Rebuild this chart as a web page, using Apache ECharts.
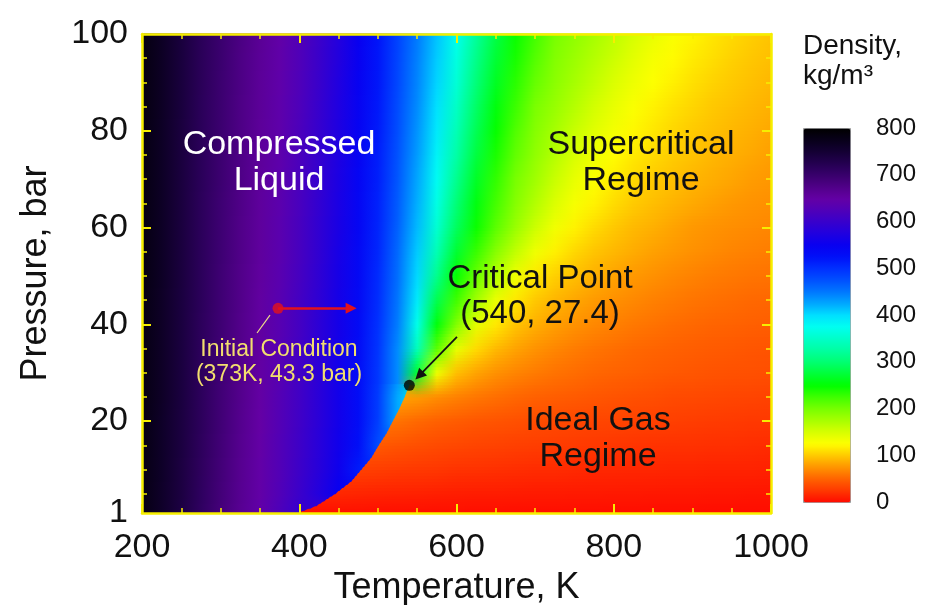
<!DOCTYPE html>
<html>
<head>
<meta charset="utf-8">
<script src="https://cdn.jsdelivr.net/npm/echarts@6/dist/echarts.min.js"></script>
<style>
    html, body { margin: 0; padding: 0; background: #fff; }
    #chart { width: 928px; height: 605px; }
</style>
</head>
<body>
<div id="chart"></div>
<script>
// sample temperatures (K) of every density row
const temps = [200, 225, 250, 275, 300, 325, 350, 375, 400, 425, 450, 475, 500, 525, 550, 575,
    600, 625, 650, 675, 700, 725, 750, 775, 800, 825, 850, 875, 900, 925, 950, 975, 1000];
// pressure levels (bar) of the rows, bottom to top
const pressures = [1, 5, 10, 15, 20, 25, 30, 35, 40, 45, 50, 55, 60, 65, 70, 75, 80, 85, 90, 95, 100];
// density, kg/m3
const density = [
    [782, 761, 737, 711, 688, 666, 645, 622, 3.0, 2.8, 2.7, 2.5, 2.4, 2.3, 2.2, 2.1, 2.0, 1.9, 1.9, 1.8, 1.7, 1.7, 1.6, 1.6, 1.5, 1.5, 1.4, 1.4, 1.4, 1.3, 1.3, 1.3, 1.2],
    [782, 761, 738, 712, 689, 667, 647, 626, 603, 578, 15, 14, 13, 12.5, 12, 11, 10.5, 10, 9.7, 9.3, 8.9, 8.5, 8.2, 8, 7.7, 7.4, 7.2, 7, 6.8, 6.6, 6.4, 6.2, 6.1],
    [782, 762, 738, 713, 690, 668, 648, 627, 605, 582, 556, 517, 28, 26, 25, 24, 22, 21, 20, 19, 18, 18, 17, 16, 16, 15, 15, 14, 14, 13, 13, 13, 12],
    [783, 762, 739, 714, 691, 669, 649, 628, 606, 583, 558, 528, 479, 41, 38, 36, 34, 32, 31, 29, 28, 27, 26, 25, 24, 23, 22, 21, 21, 20, 20, 19, 18],
    [783, 762, 739, 715, 692, 670, 650, 629, 608, 585, 560, 532, 490, 58, 53, 49, 46, 43, 41, 39, 37, 36, 34, 33, 32, 31, 30, 29, 28, 27, 26, 25, 25],
    [783, 763, 740, 715, 692, 671, 651, 630, 609, 585, 560, 532, 492, 425, 78, 71, 65, 60, 56, 52, 49, 47, 45, 43, 41, 39, 38, 36, 35, 34, 33, 32, 31],
    [783, 763, 740, 715, 693, 672, 652, 632, 610, 586, 560, 532, 495, 440, 270, 136, 95, 82, 73, 67, 62, 58, 55, 52, 50, 48, 46, 44, 43, 41, 40, 39, 38],
    [783, 763, 740, 715, 693, 673, 653, 633, 611, 587, 561, 533, 497, 440, 340, 213, 141, 108, 93, 82, 74, 68, 63, 59, 56, 53, 51, 49, 47, 45, 44, 42, 41],
    [783, 763, 740, 715, 694, 673, 654, 634, 612, 588, 563, 535, 500, 448, 370, 255, 195, 142, 115, 98, 88, 80, 74, 69, 65, 61, 58, 55, 53, 51, 50, 48, 47],
    [783, 763, 740, 716, 694, 674, 654, 635, 613, 590, 564, 536, 503, 452, 392, 285, 225, 178, 138, 114, 100, 91, 84, 78, 73, 69, 65, 62, 59, 57, 55, 53, 52],
    [784, 764, 741, 716, 694, 674, 655, 636, 615, 591, 565, 537, 505, 456, 403, 314, 248, 207, 168, 135, 114, 103, 95, 88, 82, 77, 73, 69, 66, 63, 61, 59, 58],
    [784, 764, 741, 716, 695, 675, 656, 637, 616, 592, 566, 538, 508, 460, 410, 337, 272, 228, 192, 162, 135, 118, 107, 98, 92, 86, 81, 77, 73, 70, 67, 65, 63],
    [784, 764, 741, 716, 695, 675, 657, 638, 617, 593, 568, 540, 510, 465, 417, 355, 291, 246, 213, 183, 156, 134, 119, 108, 100, 93, 88, 82, 77, 74, 72, 70, 68],
    [784, 764, 741, 716, 695, 676, 657, 639, 618, 594, 569, 541, 512, 468, 422, 367, 303, 257, 223, 193, 170, 148, 131, 119, 109, 101, 95, 90, 85, 81, 77, 74, 72],
    [784, 764, 741, 717, 696, 677, 658, 640, 619, 596, 570, 542, 514, 471, 426, 378, 315, 267, 231, 200, 179, 158, 140, 127, 117, 108, 101, 96, 91, 87, 83, 79, 76],
    [784, 764, 741, 717, 696, 677, 659, 641, 620, 597, 572, 544, 515, 474, 431, 385, 328, 278, 240, 210, 187, 168, 150, 135, 124, 115, 108, 102, 97, 92, 88, 84, 80],
    [784, 764, 741, 717, 697, 678, 660, 642, 621, 598, 573, 545, 517, 477, 436, 393, 338, 287, 248, 218, 193, 176, 159, 144, 132, 122, 114, 107, 101, 96, 92, 88, 84],
    [785, 765, 742, 717, 697, 678, 661, 643, 623, 599, 574, 546, 519, 479, 440, 399, 348, 295, 256, 227, 199, 184, 168, 153, 140, 128, 119, 112, 106, 100, 96, 92, 88],
    [785, 765, 742, 718, 697, 679, 661, 644, 624, 601, 575, 547, 520, 482, 443, 405, 358, 304, 265, 234, 208, 190, 176, 162, 148, 136, 126, 118, 111, 105, 100, 96, 92],
    [785, 765, 742, 718, 698, 679, 662, 645, 625, 602, 577, 549, 521, 484, 446, 409, 365, 313, 273, 241, 216, 195, 182, 169, 156, 143, 131, 123, 116, 110, 104, 99, 95],
    [785, 765, 742, 718, 698, 680, 663, 646, 626, 603, 578, 550, 522, 486, 449, 413, 374, 322, 281, 247, 224, 200, 188, 176, 164, 151, 139, 129, 121, 114, 108, 103, 98]
];
// saturation curve (liquid/vapour boundary) up to the critical point
const satP = [1, 2.5, 5, 7.5, 10, 12.5, 15, 17.5, 20, 22.5, 25, 27.4];
const satT = [398, 422, 446, 466, 479, 492, 501, 511, 519, 527, 534, 540];
const satLiquid = [598, 575, 550, 524, 502, 484, 466, 448, 426, 405, 385, 232];
const satVapour = [3, 7, 15, 22, 30, 37, 44, 52, 60, 70, 82, 232];

// annotations
const initialPoint = [373, 43.3];
const criticalPoint = [540, 27.4];
const initialArrowEnd = [466, 43.3];
const criticalArrowStart = [600.6, 37.4];
const criticalArrowEnd = [552.6, 29.4];
const leaderStart = [362.8, 41.9];
const leaderEnd = [346.3, 38.2];

// ticks
const tempTicks = [200, 400, 600, 800, 1000];
const pressureLabels = [1, 20, 40, 60, 80, 100];
const pressureMajor = [20, 40, 60, 80];
const pressureMinor = [5, 10, 15, 25, 30, 35, 45, 50, 55, 65, 70, 75, 85, 90, 95];

// colour ramp of the density bar, 0 .. 800 in steps of 25
const ramp = ['#ff0a00', '#ff3800', '#ff6200', '#ff9400', '#ffc800', '#ffff00', '#d8ff00', '#a8ff00',
    '#78ff00', '#40ff00', '#00ff00', '#00ff38', '#00ff70', '#00ffa0', '#00ffc8', '#00fff0',
    '#00e0ff', '#00a8ff', '#0078ff', '#0050ff', '#0030ff', '#0010f8', '#0800f0', '#2000e0',
    '#3800cc', '#5000b8', '#6400a4', '#500088', '#38006c', '#240050', '#140034', '#08001a', '#000000'];

const FONT = '"Liberation Sans", Arial, Helvetica, sans-serif';
const FRAME = '#f6ee00';
const SUBSTRIPS = 8;

const nT = temps.length;
const nP = pressures.length;
const tMin = temps[0], tMax = temps[nT - 1];
const pCrit = criticalPoint[1];

// one cell per sample, then the liquid and vapour side of each saturation point
const cells = [];
pressures.forEach((p, j) => temps.forEach((t, i) => cells.push([t, p, density[j][i]])));
const satBase = cells.length;
satP.forEach((p, k) => {
    cells.push([satT[k], p, satLiquid[k]]);
    cells.push([satT[k], p, satVapour[k]]);
});

// temperature of the drawn saturation line at pressure p
function satTempAt(p) {
    for (let m = 1; m < satP.length; m++) {
        if (p <= satP[m]) {
            const f = (p - satP[m - 1]) / (satP[m] - satP[m - 1]);
            return satT[m - 1] + f * (satT[m] - satT[m - 1]);
        }
    }
    return satT[satT.length - 1];
}

// colours of row j; one phase only when the row crosses the saturation line
function rowColors(api, j, mode) {
    const base = j * nT;
    const k = satP.indexOf(pressures[j]);
    return temps.map((t, i) => {
        const own = api.visual('color', base + i);
        if (k < 0 || mode === 'raw') return own;
        if (mode === 'gas') return t > satT[k] ? own : api.visual('color', satBase + 2 * k + 1);
        return t < satT[k] ? own : api.visual('color', satBase + 2 * k);
    });
}

// the first cell of each row draws the strip up to the next row
function renderStrip(params, api) {
    const idx = params.dataIndex;
    if (idx >= satBase || idx % nT !== 0) return null;
    const j = idx / nT;
    if (j >= nP - 1) return null;
    const pa = pressures[j], pb = pressures[j + 1];
    const x0 = api.coord([tMin, pa])[0], x1 = api.coord([tMax, pa])[0];
    const offsets = temps.map(t => (api.coord([t, pa])[0] - x0) / (x1 - x0));
    const A = {raw: rowColors(api, j, 'raw'), gas: rowColors(api, j, 'gas'), liq: rowColors(api, j, 'liq')};
    const B = {raw: rowColors(api, j + 1, 'raw'), gas: rowColors(api, j + 1, 'gas'), liq: rowColors(api, j + 1, 'liq')};
    // the strip that holds the critical point: keep the two sides apart
    const kA = satP.indexOf(pa), kB = satP.indexOf(pb);
    const crossing = kA >= 0 && kB < 0;
    const gasB = crossing ? temps.map((t, i) => t > satT[kA] ? B.raw[i] : A.gas[i]) : B.gas;
    const above = crossing ? temps.map((t, i) => t > satT[kA] ? A.gas[i] : B.raw[i]) : A.raw;
    const grad = (ca, cb, f) => new echarts.graphic.LinearGradient(x0, 0, x1, 0, offsets.map((o, i) => ({
        offset: o,
        color: echarts.color.lerp(f, [ca[i], cb[i]])
    })), true);
    const children = [];
    for (let s = 0; s < SUBSTRIPS; s++) {
        const qa = pa + (pb - pa) * s / SUBSTRIPS;
        const qb = pa + (pb - pa) * (s + 1) / SUBSTRIPS;
        const qm = (qa + qb) / 2, f = (qm - pa) / (pb - pa);
        const yTop = api.coord([tMin, qb])[1] - 0.5, yBot = api.coord([tMin, qa])[1] + 0.5;
        const rect = {x: x0, y: yTop, width: x1 - x0, height: yBot - yTop};
        if (qm < pCrit) {
            children.push({type: 'rect', shape: rect, style: {fill: grad(A.gas, gasB, f)}, z2: 0});
            const pts = [[tMin, qa], [satTempAt(qa), qa]];
            satP.forEach((sp, m) => {
                if (sp > qa && sp < Math.min(qb, pCrit)) pts.push([satT[m], sp]);
            });
            if (qb > pCrit) {
                pts.push([satT[satT.length - 1], pCrit], [satT[satT.length - 1], qb]);
            } else {
                pts.push([satTempAt(qb), qb]);
            }
            pts.push([tMin, qb]);
            const poly = pts.map(([t, v]) => [api.coord([t, v])[0],
                v === qa ? yBot : (v === qb ? yTop : api.coord([t, v])[1])]);
            children.push({type: 'polygon', shape: {points: poly}, style: {fill: grad(A.liq, B.liq, f)}, z2: 1});
        } else {
            children.push({type: 'rect', shape: rect, style: {fill: grad(above, B.raw, f)}, z2: 0});
        }
    }
    return {type: 'group', children: children};
}

const tickStyle = (len, w) => ({show: true, inside: true, length: len, lineStyle: {color: FRAME, width: w}});
const frameLine = {show: true, onZero: false, lineStyle: {color: FRAME, width: 2.5}};
const txt = (text, x, y, size, color, align) => ({
    type: 'text', x: x, y: y, z: 30,
    style: {
        text: text, fill: color, fontSize: size, fontFamily: FONT,
        align: align || 'center', verticalAlign: 'middle', lineHeight: size + 2
    }
});

const chart = echarts.init(document.getElementById('chart'));
chart.setOption({
    animation: false,
    backgroundColor: '#fff',
    grid: [
        {left: 142, right: 157, top: 34, bottom: 92, outerBoundsMode: 'none'},
        {left: 803, top: 128, width: 47, height: 374, outerBoundsMode: 'none'}
    ],
    xAxis: [
        {
            gridIndex: 0, type: 'value', position: 'bottom', min: tMin, max: tMax, interval: 200, z: 10,
            name: 'Temperature, K', nameLocation: 'middle', nameGap: 56,
            nameTextStyle: {fontSize: 36, color: '#111', fontFamily: FONT},
            axisLine: frameLine, axisTick: tickStyle(9, 2),
            minorTick: {show: true, splitNumber: 4, length: 5, lineStyle: {color: FRAME, width: 1.5}},
            axisLabel: {
                fontSize: 34, color: '#111', fontFamily: FONT, margin: 18,
                customValues: tempTicks, formatter: v => String(v)
            },
            splitLine: {show: false}, minorSplitLine: {show: false}
        },
        {
            gridIndex: 0, type: 'value', position: 'top', min: tMin, max: tMax, interval: 200, z: 10,
            axisLine: frameLine, axisTick: tickStyle(9, 2),
            minorTick: {show: true, splitNumber: 4, length: 5, lineStyle: {color: FRAME, width: 1.5}},
            axisLabel: {show: false}, splitLine: {show: false}
        },
        {gridIndex: 1, type: 'value', show: false, min: 0, max: 1}
    ],
    yAxis: [
        {
            gridIndex: 0, type: 'value', position: 'left', min: 1, max: 100, z: 10,
            name: 'Pressure, bar', nameLocation: 'middle', nameGap: 88,
            nameTextStyle: {fontSize: 36, color: '#111', fontFamily: FONT},
            axisLine: frameLine,
            axisTick: Object.assign(tickStyle(9, 2), {customValues: pressureMajor}),
            axisLabel: {fontSize: 34, color: '#111', fontFamily: FONT, margin: 14, customValues: pressureLabels},
            splitLine: {show: false}
        },
        {
            gridIndex: 0, type: 'value', position: 'left', min: 1, max: 100, z: 10,
            axisLine: {show: false},
            axisTick: Object.assign(tickStyle(5, 1.5), {customValues: pressureMinor}),
            axisLabel: {show: false}, splitLine: {show: false}
        },
        {
            gridIndex: 0, type: 'value', position: 'right', min: 1, max: 100, z: 10,
            axisLine: frameLine,
            axisTick: Object.assign(tickStyle(9, 2), {customValues: pressureMajor}),
            axisLabel: {show: false}, splitLine: {show: false}
        },
        {
            gridIndex: 0, type: 'value', position: 'right', min: 1, max: 100, z: 10,
            axisLine: {show: false},
            axisTick: Object.assign(tickStyle(5, 1.5), {customValues: pressureMinor}),
            axisLabel: {show: false}, splitLine: {show: false}
        },
        {
            gridIndex: 1, type: 'value', position: 'right', min: 0, max: 800, interval: 100,
            axisLine: {show: false}, axisTick: {show: false}, splitLine: {show: false},
            axisLabel: {fontSize: 24, color: '#111', fontFamily: FONT, margin: 26}
        }
    ],
    visualMap: {
        type: 'continuous', min: 0, max: 800, seriesIndex: 0, dimension: 2,
        calculable: false, hoverLink: false, orient: 'vertical',
        left: 803, top: 128, itemWidth: 47, itemHeight: 374, padding: 0,
        borderColor: '#999', borderWidth: 1,
        inRange: {color: ramp}
    },
    series: [
        {
            type: 'custom', xAxisIndex: 0, yAxisIndex: 0, z: 2, silent: true,
            dimensions: ['T', 'P', 'density'], encode: {x: 0, y: 1},
            data: cells, renderItem: renderStrip
        },
        {
            type: 'lines', coordinateSystem: 'cartesian2d', xAxisIndex: 0, yAxisIndex: 0, z: 12, silent: true,
            symbol: ['none', 'triangle'], symbolSize: 11,
            data: [
                {coords: [initialPoint, initialArrowEnd], lineStyle: {color: '#e3121b', width: 2.5, opacity: 1}},
                {coords: [criticalArrowStart, criticalArrowEnd], lineStyle: {color: '#111', width: 1.8, opacity: 1}}
            ]
        },
        {
            type: 'lines', coordinateSystem: 'cartesian2d', xAxisIndex: 0, yAxisIndex: 0, z: 12, silent: true,
            symbol: ['none', 'none'],
            data: [{coords: [leaderStart, leaderEnd], lineStyle: {color: '#eedc8a', width: 1.2, opacity: 1}}]
        },
        {
            type: 'scatter', xAxisIndex: 0, yAxisIndex: 0, z: 13, silent: true, symbolSize: 11,
            data: [
                {value: initialPoint, itemStyle: {color: '#e3121b'}},
                {value: criticalPoint, itemStyle: {color: '#000'}}
            ]
        }
    ],
    graphic: [
        txt('Compressed\nLiquid', 279, 163, 34, '#fff'),
        txt('Supercritical\nRegime', 641, 163, 34, '#111'),
        txt('Critical Point\n(540, 27.4)', 540, 296, 33, '#111'),
        txt('Ideal Gas\nRegime', 598, 439, 34, '#111'),
        txt('Initial Condition\n(373K, 43.3 bar)', 279, 362, 23, '#f2de6e'),
        txt('Density,\nkg/m³', 803, 61, 28, '#111', 'left')
    ]
});
</script>
</body>
</html>
